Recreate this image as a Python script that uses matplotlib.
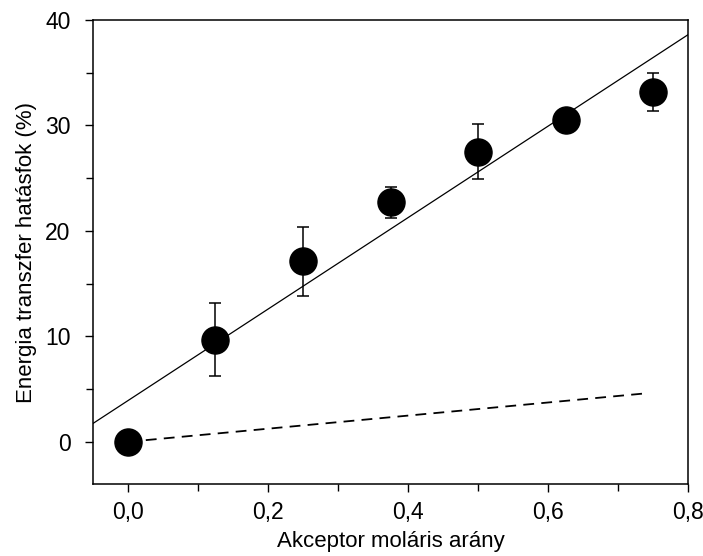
import numpy as np
import matplotlib
matplotlib.use('Agg')
import matplotlib.pyplot as plt
from matplotlib.ticker import MultipleLocator, FuncFormatter

plt.rcParams['font.family'] = ['Liberation Sans', 'DejaVu Sans']

# mért pontok (akceptor arány, hatásfok %, szórás)
arany = [0.0, 0.125, 0.25, 0.375, 0.5, 0.625, 0.75]
hatasfok = [0.0, 9.7, 17.1, 22.7, 27.5, 30.5, 33.2]
hiba = [0.0, 3.5, 3.3, 1.5, 2.6, 0.5, 1.8]

# illesztett egyenes és a szaggatott referencia
illesztes_x = [-0.05, 0.8]
illesztes_a, illesztes_b = 43.4, 3.9
ref_x = [0.0, 0.74]
ref_y = [0.0, 4.6]

fig = plt.figure(figsize=(7.03, 5.56), dpi=100)
ax = fig.add_axes([0.132, 0.1295, 0.847, 0.8345])

fx = np.array(illesztes_x)
ax.plot(fx, illesztes_a * fx + illesztes_b, color='black', lw=0.9, zorder=2)
ax.plot(ref_x, ref_y, color='black', lw=1.3, ls=(0, (6, 4)), zorder=2)

ax.errorbar(arany, hatasfok, yerr=hiba, fmt='o', color='black', ms=19.5,
            ecolor='black', elinewidth=1.1, capsize=4, capthick=1.1, zorder=3)

ax.set_xlim(-0.05, 0.8)
ax.set_ylim(-4, 40)
ax.xaxis.set_major_locator(MultipleLocator(0.2))
ax.xaxis.set_minor_locator(MultipleLocator(0.1))
ax.yaxis.set_major_locator(MultipleLocator(10))
ax.yaxis.set_minor_locator(MultipleLocator(5))
ax.xaxis.set_major_formatter(FuncFormatter(lambda v, p: f'{v:.1f}'.replace('.', ',')))
ax.yaxis.set_major_formatter(FuncFormatter(lambda v, p: f'{v:.0f}'))

ax.tick_params(which='both', direction='out', labelsize=16.5, width=1)
ax.tick_params(which='major', length=6)
ax.tick_params(which='minor', length=5)
ax.tick_params(axis='y', pad=10)
ax.tick_params(axis='x', pad=6)
for s in ax.spines.values():
    s.set_linewidth(1.1)

ax.set_xlabel('Akceptor moláris arány', fontsize=16, labelpad=5)
ax.set_ylabel('Energia transzfer hatásfok (%)', fontsize=16, labelpad=6)

fig.savefig('out.png', dpi=100)
